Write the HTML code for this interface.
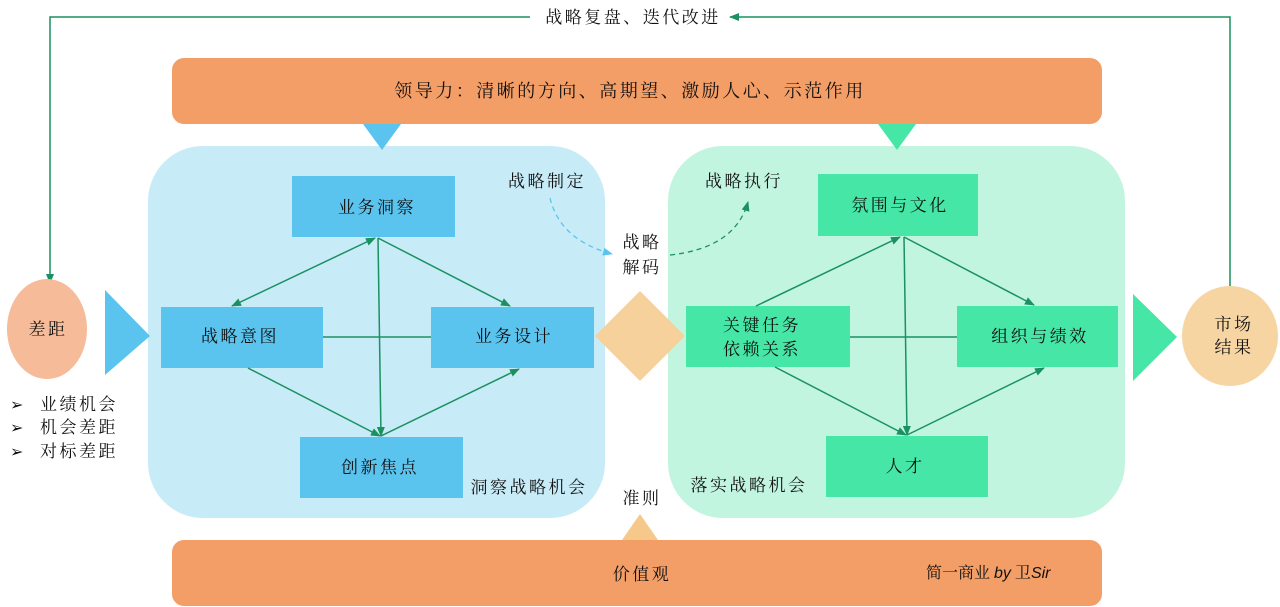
<!DOCTYPE html>
<html><head><meta charset="utf-8"><style>
html,body{margin:0;padding:0;background:#fff;width:1280px;height:607px;overflow:hidden}
svg text{font-family:"Liberation Serif","Noto Serif CJK SC","Noto Sans CJK SC",serif;fill:#111;letter-spacing:2.5px}
</style></head><body>
<svg width="1280" height="607" viewBox="0 0 1280 607" xmlns="http://www.w3.org/2000/svg">
<defs>
<marker id="g" markerWidth="10" markerHeight="8" refX="9" refY="4" orient="auto-start-reverse" markerUnits="userSpaceOnUse"><path d="M0,0 L10,4 L0,8 Z" fill="#1a9160"/></marker>
<marker id="db" markerWidth="10" markerHeight="8" refX="9" refY="4" orient="auto" markerUnits="userSpaceOnUse"><path d="M0,0 L10,4 L0,8 Z" fill="#5bc4ee"/></marker>
<marker id="dg" markerWidth="10" markerHeight="8" refX="9" refY="4" orient="auto" markerUnits="userSpaceOnUse"><path d="M0,0 L10,4 L0,8 Z" fill="#1a9160"/></marker>
</defs>
<polyline points="1230,300 1230,17 730,17" fill="none" stroke="#1a9160" stroke-width="1.5" marker-end="url(#g)"/>
<polyline points="530,17 50,17 50,283" fill="none" stroke="#1a9160" stroke-width="1.5" marker-end="url(#g)"/>
<text x="633" y="23" font-size="17" text-anchor="middle">战略复盘、迭代改进</text>
<rect x="172" y="58" width="930" height="66" rx="12" fill="#f49e67"/>
<text x="630" y="97" font-size="18" text-anchor="middle">领导力：清晰的方向、高期望、激励人心、示范作用</text>
<rect x="148" y="146" width="457" height="372" rx="55" fill="#c8ebf8"/>
<rect x="668" y="146" width="457" height="372" rx="55" fill="#c2f5df"/>
<polygon points="363,124 401,124 382,150" fill="#5bc4ee"/>
<polygon points="878,124 916,124 897,150" fill="#46e6a6"/>
<ellipse cx="47" cy="329" rx="40" ry="50" fill="#f6bb98"/>
<text x="48" y="335" font-size="17" text-anchor="middle">差距</text>
<polygon points="105,290 150,336 105,375" fill="#5bc4ee"/>
<text x="10" y="410" font-size="16">➢</text><text x="40" y="410" font-size="17">业绩机会</text>
<text x="10" y="433" font-size="16">➢</text><text x="40" y="433" font-size="17">机会差距</text>
<text x="10" y="457" font-size="16">➢</text><text x="40" y="457" font-size="17">对标差距</text>
<rect x="292" y="176" width="163" height="61" fill="#5bc4ee"/>
<rect x="161" y="307" width="162" height="61" fill="#5bc4ee"/>
<rect x="431" y="307" width="163" height="61" fill="#5bc4ee"/>
<rect x="300" y="437" width="163" height="61" fill="#5bc4ee"/>
<text x="377" y="213" font-size="17" text-anchor="middle">业务洞察</text>
<text x="240" y="342" font-size="17" text-anchor="middle">战略意图</text>
<text x="514" y="342" font-size="17" text-anchor="middle">业务设计</text>
<text x="380" y="473" font-size="17" text-anchor="middle">创新焦点</text>
<g stroke="#1a9160" stroke-width="1.5" fill="none">
<line x1="375" y1="238" x2="232" y2="306" marker-start="url(#g)" marker-end="url(#g)"/>
<line x1="378" y1="238" x2="510" y2="306" marker-end="url(#g)"/>
<line x1="378" y1="238" x2="381" y2="436" marker-end="url(#g)"/>
<line x1="248" y1="368" x2="380" y2="436" marker-end="url(#g)"/>
<line x1="381" y1="436" x2="519" y2="369" marker-end="url(#g)"/>
<line x1="323" y1="337" x2="431" y2="337"/>
</g>
<text x="547" y="187" font-size="17" text-anchor="middle">战略制定</text>
<text x="529" y="493" font-size="17" text-anchor="middle">洞察战略机会</text>
<path d="M550,198 Q560,240 612,254" fill="none" stroke="#5bc4ee" stroke-width="1.3" stroke-dasharray="5,4" marker-end="url(#db)"/>
<text x="642" y="248" font-size="17" text-anchor="middle">战略</text>
<text x="642" y="273" font-size="17" text-anchor="middle">解码</text>
<polygon points="640,291 685,336 640,381 595,336" fill="#f6d19c"/>
<text x="642" y="504" font-size="17" text-anchor="middle">准则</text>
<polygon points="640,514 658,540 622,540" fill="#f6c98a"/>
<path d="M670,255 Q735,248 748,202" fill="none" stroke="#1a9160" stroke-width="1.3" stroke-dasharray="5,4" marker-end="url(#dg)"/>
<text x="744" y="187" font-size="17" text-anchor="middle">战略执行</text>
<rect x="818" y="174" width="160" height="62" fill="#46e6a6"/>
<rect x="686" y="306" width="164" height="61" fill="#46e6a6"/>
<rect x="957" y="306" width="161" height="61" fill="#46e6a6"/>
<rect x="826" y="436" width="162" height="61" fill="#46e6a6"/>
<text x="900" y="211" font-size="17" text-anchor="middle">氛围与文化</text>
<text x="762" y="331" font-size="17" text-anchor="middle">关键任务</text>
<text x="762" y="355" font-size="17" text-anchor="middle">依赖关系</text>
<text x="1040" y="342" font-size="17" text-anchor="middle">组织与绩效</text>
<text x="905" y="472" font-size="17" text-anchor="middle">人才</text>
<text x="749" y="491" font-size="17" text-anchor="middle">落实战略机会</text>
<g stroke="#1a9160" stroke-width="1.5" fill="none">
<line x1="756" y1="306" x2="900" y2="237" marker-end="url(#g)"/>
<line x1="904" y1="237" x2="1034" y2="305" marker-end="url(#g)"/>
<line x1="904" y1="237" x2="907" y2="435" marker-end="url(#g)"/>
<line x1="775" y1="367" x2="906" y2="435" marker-end="url(#g)"/>
<line x1="907" y1="435" x2="1044" y2="368" marker-end="url(#g)"/>
<line x1="850" y1="337" x2="957" y2="337"/>
</g>
<polygon points="1133,294 1177,337 1133,381" fill="#46e6a6"/>
<ellipse cx="1230" cy="336" rx="48" ry="50" fill="#f6d5a3"/>
<text x="1234" y="330" font-size="17" text-anchor="middle">市场</text>
<text x="1234" y="353" font-size="17" text-anchor="middle">结果</text>
<rect x="172" y="540" width="930" height="66" rx="12" fill="#f49e67"/>
<text x="642" y="580" font-size="17" text-anchor="middle">价值观</text>
<text x="926" y="578" font-size="16" style="letter-spacing:0">简一商业 <tspan font-style="italic" font-family="Liberation Sans,sans-serif">by</tspan> 卫<tspan font-style="italic" font-family="Liberation Sans,sans-serif">Sir</tspan></text>
</svg>
</body></html>
